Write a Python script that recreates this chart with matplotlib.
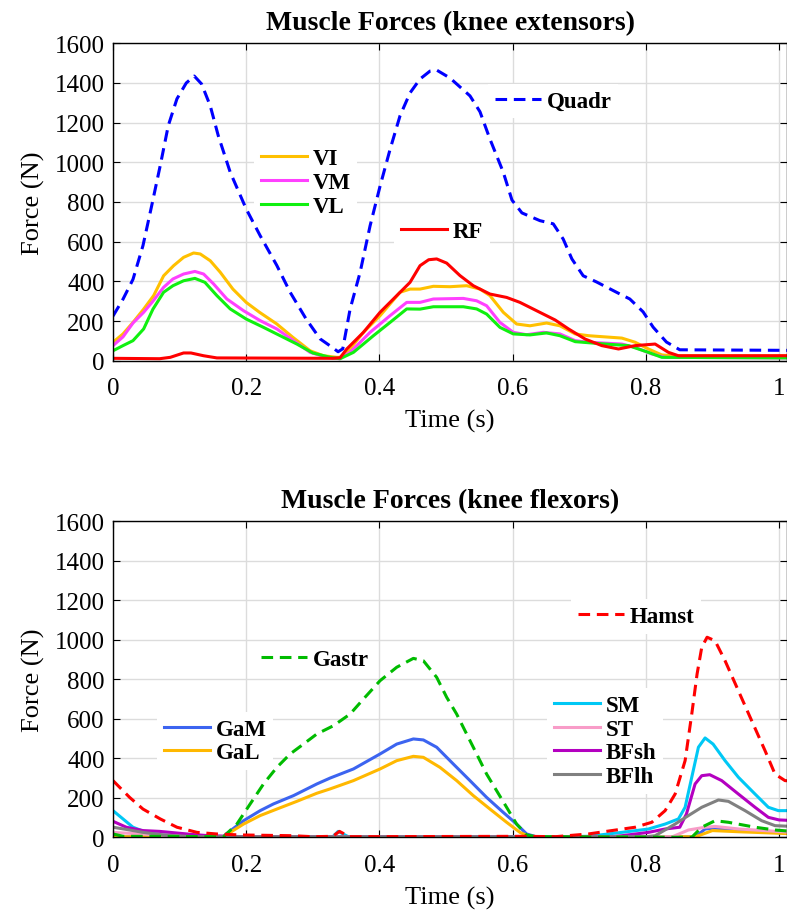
import matplotlib
matplotlib.use('Agg')
import matplotlib.pyplot as plt

plt.rcParams['font.family'] = ['Liberation Serif', 'DejaVu Serif']

# ---- knee extensors (top panel) ----
quadr_t = [0, 0.015, 0.03, 0.045, 0.058, 0.071, 0.083, 0.096, 0.11, 0.122, 0.133, 0.146,
           0.158, 0.176, 0.2, 0.221, 0.246, 0.266, 0.29, 0.311, 0.328, 0.338, 0.345, 0.356,
           0.371, 0.386, 0.401, 0.416, 0.431, 0.446, 0.461, 0.476, 0.486, 0.506, 0.536,
           0.551, 0.566, 0.586, 0.599, 0.614, 0.641, 0.661, 0.676, 0.689, 0.706, 0.726,
           0.756, 0.776, 0.796, 0.811, 0.831, 0.851, 1.02]
quadr_f = [225, 310, 410, 580, 780, 985, 1185, 1320, 1400, 1435, 1395, 1285,
           1135, 950, 765, 630, 480, 345, 210, 110, 70, 45, 60, 260,
           445, 680, 880, 1065, 1235, 1350, 1420, 1460, 1465, 1425, 1335,
           1255, 1117, 950, 810, 745, 706, 690, 613, 513, 428, 397,
           345, 311, 246, 169, 94, 55, 52]

vi_t = [0, 0.015, 0.03, 0.046, 0.061, 0.076, 0.091, 0.106, 0.121, 0.131, 0.146, 0.161,
        0.18, 0.2, 0.22, 0.246, 0.27, 0.296, 0.316, 0.336, 0.341, 0.356, 0.376, 0.401,
        0.431, 0.446, 0.461, 0.481, 0.506, 0.531, 0.551, 0.566, 0.586, 0.606, 0.626,
        0.651, 0.671, 0.694, 0.714, 0.764, 0.784, 0.804, 0.824, 0.84, 1.02]
vi_f = [93, 135, 193, 260, 328, 428, 479, 521, 543, 538, 504, 446,
        361, 294, 244, 185, 118, 50, 25, 17, 17, 59, 143, 227,
        345, 361, 361, 375, 373, 378, 361, 328, 244, 185, 176,
        190, 176, 135, 126, 114, 93, 59, 29, 25, 25]

vm_t = [0, 0.015, 0.03, 0.046, 0.06, 0.076, 0.09, 0.106, 0.123, 0.136, 0.151, 0.171,
        0.196, 0.221, 0.246, 0.271, 0.296, 0.321, 0.34, 0.356, 0.386, 0.416, 0.441,
        0.461, 0.481, 0.526, 0.546, 0.561, 0.581, 0.601, 0.621, 0.646, 0.671, 0.694,
        0.714, 0.764, 0.784, 0.809, 0.829, 1.02]
vm_f = [76, 120, 190, 244, 300, 370, 412, 437, 450, 437, 387, 311,
        252, 202, 160, 101, 42, 17, 10, 42, 143, 227, 294,
        294, 311, 314, 302, 277, 193, 143, 131, 143, 135, 101,
        93, 84, 67, 34, 17, 14]

vl_t = [0, 0.015, 0.03, 0.046, 0.06, 0.076, 0.09, 0.106, 0.123, 0.138, 0.156, 0.176,
        0.2, 0.226, 0.251, 0.276, 0.3, 0.326, 0.341, 0.361, 0.391, 0.416, 0.441,
        0.461, 0.481, 0.526, 0.546, 0.561, 0.581, 0.601, 0.626, 0.651, 0.671, 0.694,
        0.739, 0.774, 0.804, 0.824, 1.02]
vl_f = [50, 76, 101, 160, 260, 345, 378, 403, 415, 395, 328, 261,
        210, 168, 126, 84, 39, 17, 10, 42, 126, 193, 261,
        260, 272, 272, 261, 235, 168, 135, 130, 140, 126, 96,
        84, 76, 42, 17, 14]

rf_t = [0, 0.07, 0.086, 0.106, 0.117, 0.136, 0.156, 0.33, 0.341, 0.351, 0.376, 0.401,
        0.426, 0.446, 0.461, 0.474, 0.486, 0.501, 0.521, 0.541, 0.566, 0.591, 0.611,
        0.636, 0.664, 0.684, 0.709, 0.734, 0.759, 0.784, 0.814, 0.834, 0.849, 1.02]
rf_f = [12, 10, 17, 39, 39, 25, 14, 12, 15, 59, 143, 244,
        328, 395, 479, 509, 513, 492, 429, 378, 336, 319, 294,
        252, 205, 160, 109, 76, 59, 76, 84, 42, 25, 25]

# ---- knee flexors (bottom panel) ----
gastr_t = [0, 0.015, 0.166, 0.186, 0.206, 0.226, 0.246, 0.266, 0.286, 0.306, 0.331,
           0.356, 0.376, 0.401, 0.426, 0.451, 0.466, 0.486, 0.501, 0.516, 0.531, 0.546,
           0.561, 0.576, 0.591, 0.606, 0.621, 0.635, 0.869, 0.884, 0.904, 0.924, 0.964,
           0.994, 1.02]
gastr_f = [17, 5, 3, 67, 169, 270, 354, 422, 472, 523, 565,
           624, 700, 793, 861, 906, 894, 810, 709, 624, 523, 422,
           320, 236, 152, 67, 12, 3, 0, 51, 84, 76, 51,
           37, 30]

hamst_t = [0, 0.025, 0.045, 0.071, 0.096, 0.126, 0.155, 0.19, 0.27, 0.3, 0.33, 0.34,
           0.355, 0.62, 0.664, 0.714, 0.749, 0.784, 0.809, 0.829, 0.844, 0.859, 0.869,
           0.877, 0.884, 0.892, 0.904, 0.919, 0.939, 0.959, 0.979, 0.994, 1.009, 1.02]
hamst_f = [287, 202, 143, 93, 51, 25, 17, 12, 8, 3, 5, 30,
           3, 5, 3, 17, 34, 51, 76, 135, 219, 388, 624,
           827, 962, 1013, 995, 894, 742, 590, 439, 320, 287, 285]

gam_t = [0, 0.166, 0.17, 0.196, 0.221, 0.241, 0.271, 0.306, 0.326, 0.361, 0.401,
         0.426, 0.451, 0.466, 0.486, 0.511, 0.536, 0.561, 0.586, 0.606, 0.621, 0.635,
         0.875, 0.889, 0.904, 0.94, 1.02]
gam_f = [3, 3, 17, 84, 135, 169, 211, 270, 300, 346, 422,
         472, 498, 493, 456, 371, 287, 202, 126, 67, 17, 3,
         3, 42, 47, 34, 20]

gal_t = [0, 0.166, 0.17, 0.196, 0.221, 0.246, 0.276, 0.306, 0.326, 0.361, 0.401,
         0.426, 0.451, 0.466, 0.491, 0.516, 0.541, 0.566, 0.591, 0.611, 0.626,
         0.875, 0.9, 0.94, 1.02]
gal_f = [3, 3, 12, 67, 110, 143, 182, 223, 245, 287, 346,
         388, 410, 405, 354, 287, 211, 143, 76, 25, 3,
         3, 34, 28, 18]

sm_t = [0, 0.015, 0.03, 0.05, 0.075, 0.1, 0.15, 0.33, 0.338, 0.355, 0.666, 0.714,
        0.764, 0.804, 0.829, 0.849, 0.859, 0.869, 0.879, 0.889, 0.901, 0.919, 0.939,
        0.964, 0.984, 0.999, 1.02]
sm_f = [135, 93, 51, 25, 12, 8, 3, 3, 30, 0, 3, 5,
        25, 42, 67, 93, 152, 304, 456, 503, 472, 388, 304,
        219, 152, 135, 135]

st_t = [0, 0.025, 0.06, 0.1, 0.15, 0.84, 0.864, 0.889, 0.904, 0.94, 1.02]
st_f = [25, 20, 14, 8, 3, 3, 37, 51, 55, 42, 25]

bfsh_t = [0, 0.02, 0.045, 0.07, 0.095, 0.12, 0.145, 0.2, 0.75, 0.764, 0.804, 0.829,
          0.851, 0.861, 0.874, 0.884, 0.896, 0.914, 0.939, 0.964, 0.984, 1.0, 1.02]
bfsh_f = [81, 51, 34, 30, 22, 14, 8, 3, 3, 8, 25, 42,
          51, 118, 270, 312, 317, 287, 219, 152, 101, 88, 85]

bflh_t = [0, 0.025, 0.045, 0.075, 0.12, 0.8, 0.814, 0.844, 0.864, 0.884, 0.909, 0.924,
          0.949, 0.974, 0.994, 1.02]
bflh_f = [51, 37, 25, 12, 3, 3, 8, 67, 110, 152, 189, 182,
          135, 84, 59, 55]

yticks = list(range(0, 1601, 200))
xticks = [0, 0.2, 0.4, 0.6, 0.8, 1.0]
xtick_labels = ['0', '0.2', '0.4', '0.6', '0.8', '1']

W, H = 787, 912
fig = plt.figure(figsize=(W / 100, H / 100), dpi=100)

LW = 2.2
DASH = (0, (3.8, 2.2))


def make_axes(top_px, bottom_px, title):
    ax = fig.add_axes([113 / W, 1 - bottom_px / H, (W - 113) / W, (bottom_px - top_px) / H])
    ax.set_xlim(0, 1.012)
    ax.set_ylim(0, 1600)
    ax.set_xticks(xticks)
    ax.set_xticklabels(xtick_labels)
    ax.set_yticks(yticks)
    ax.tick_params(direction='in', top=True, right=True, length=5, width=0.8, labelsize=18)
    ax.tick_params(axis='x', pad=12)
    ax.tick_params(axis='y', pad=6)
    ax.grid(True, color='#dcdcdc', linewidth=1.0)
    ax.set_axisbelow(True)
    for s in ax.spines.values():
        s.set_linewidth(1.0)
    ax.set_ylabel('Force (N)', fontsize=19, labelpad=7)
    ax.set_xlabel('Time (s)', fontsize=19, labelpad=7)
    ax.set_title(title, fontsize=20, fontweight='bold', pad=10)
    return ax


def put_legend(ax, handles, x_px, y_px):
    lg = ax.legend(handles=handles, loc='center left',
                   bbox_to_anchor=(x_px / W, 1 - y_px / H), bbox_transform=fig.transFigure,
                   borderaxespad=0, borderpad=0.3, handlelength=2.0, handletextpad=0.25,
                   labelspacing=0.12, frameon=True, fancybox=False, framealpha=1,
                   facecolor='white', edgecolor='none', prop={'weight': 'bold', 'size': 16.5})
    ax.add_artist(lg)
    return lg


# top panel
ax1 = make_axes(44.3, 361.7, 'Muscle Forces (knee extensors)')
l_quadr, = ax1.plot(quadr_t, quadr_f, color='#0000ff', lw=LW, ls=DASH, label='Quadr')
l_vi, = ax1.plot(vi_t, vi_f, color='#ffc000', lw=LW, label='VI')
l_vm, = ax1.plot(vm_t, vm_f, color='#ff40ff', lw=LW, label='VM')
l_vl, = ax1.plot(vl_t, vl_f, color='#10f010', lw=LW, label='VL')
l_rf, = ax1.plot(rf_t, rf_f, color='#ff0000', lw=LW, label='RF')

put_legend(ax1, [l_vi, l_vm, l_vl], 254, 183.5)
put_legend(ax1, [l_rf], 394, 232)
put_legend(ax1, [l_quadr], 488, 102)

# bottom panel
ax2 = make_axes(522.3, 838.3, 'Muscle Forces (knee flexors)')
l_gam, = ax2.plot(gam_t, gam_f, color='#3c64f0', lw=LW, label='GaM')
l_gal, = ax2.plot(gal_t, gal_f, color='#ffb800', lw=LW, label='GaL')
l_sm, = ax2.plot(sm_t, sm_f, color='#00c8f5', lw=LW, label='SM')
l_st, = ax2.plot(st_t, st_f, color='#f89cc8', lw=LW, label='ST')
l_bfsh, = ax2.plot(bfsh_t, bfsh_f, color='#b400c0', lw=LW, label='BFsh')
l_bflh, = ax2.plot(bflh_t, bflh_f, color='#808080', lw=LW, label='BFlh')
l_gastr, = ax2.plot(gastr_t, gastr_f, color='#00bb00', lw=LW, ls=DASH, label='Gastr')
l_hamst, = ax2.plot(hamst_t, hamst_f, color='#ff0000', lw=LW, ls=DASH, label='Hamst')

put_legend(ax2, [l_gastr], 254, 660)
put_legend(ax2, [l_gam, l_gal], 157, 742)
put_legend(ax2, [l_sm, l_st, l_bfsh, l_bflh], 547, 742)
put_legend(ax2, [l_hamst], 571, 617.7)

fig.savefig('out.png', dpi=100)
